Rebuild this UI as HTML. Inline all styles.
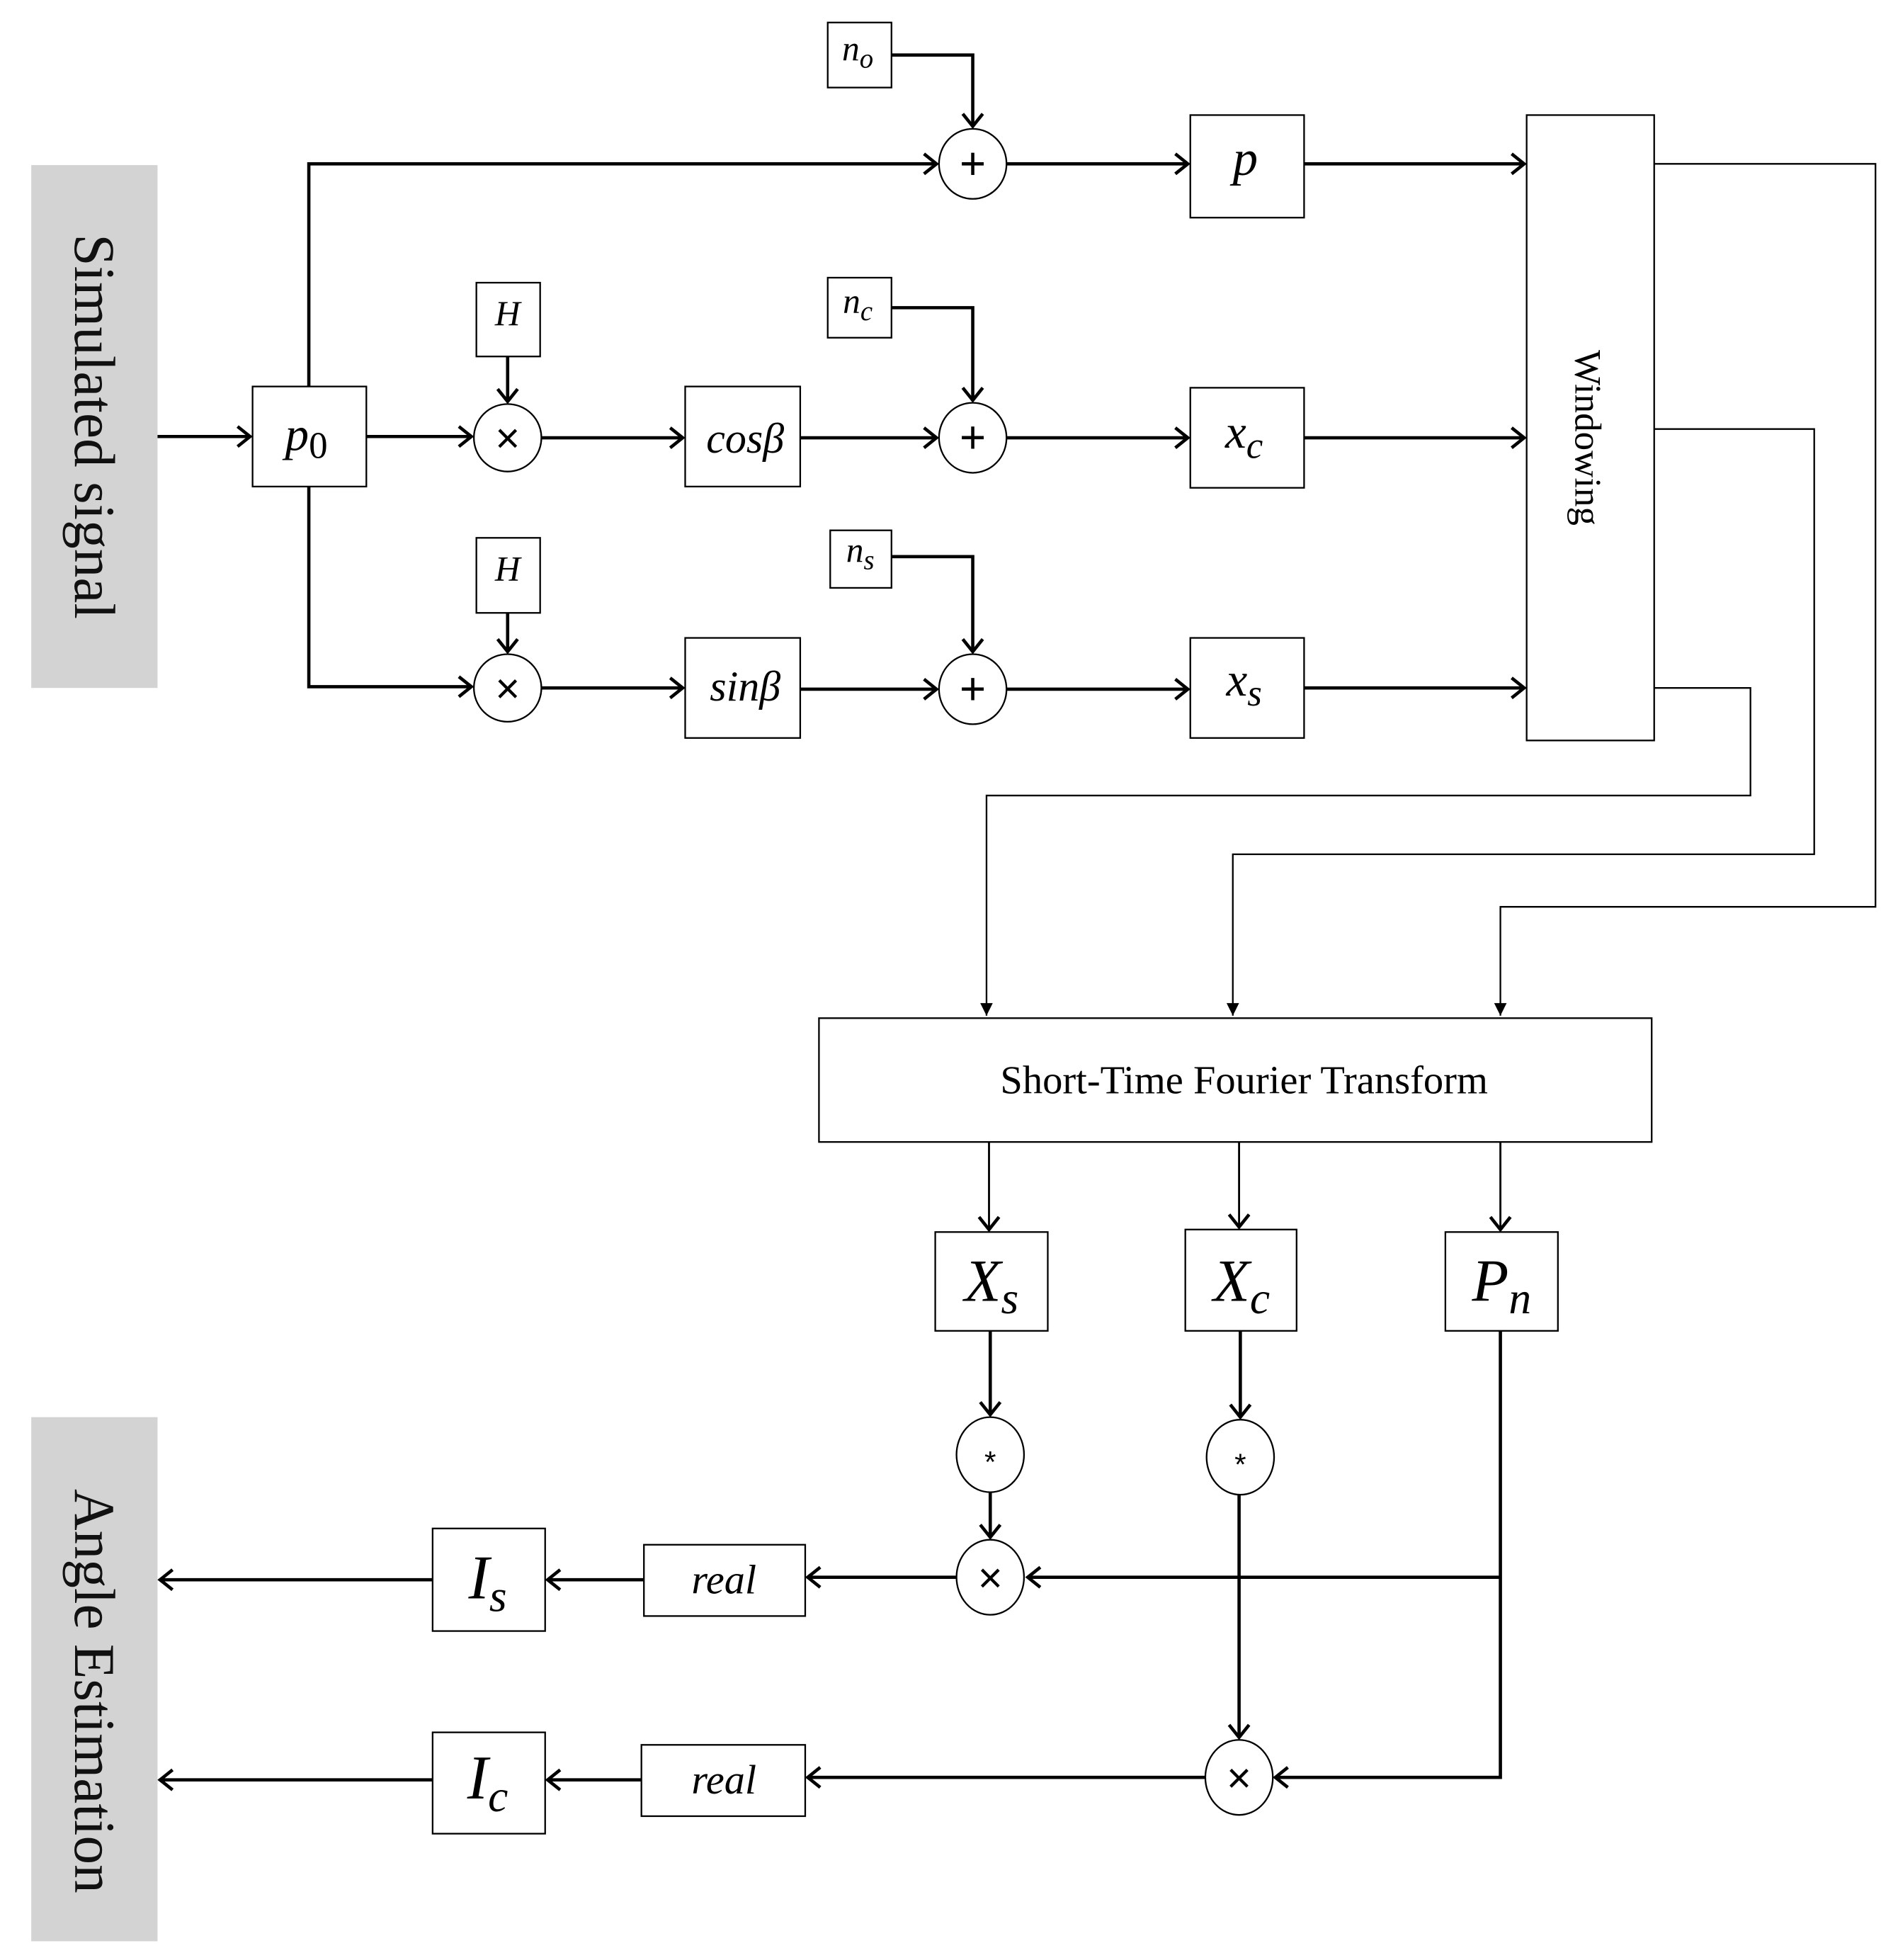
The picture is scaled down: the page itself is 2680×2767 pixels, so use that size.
<!DOCTYPE html>
<html><head><meta charset="utf-8"><style>
html,body{margin:0;padding:0;background:#fff;}
svg{display:block;}
.m{font-family:"Liberation Serif",serif;font-style:italic;}
</style></head><body>
<svg width="2680" height="2767" viewBox="0 0 1518 1567" preserveAspectRatio="none" xmlns="http://www.w3.org/2000/svg">
<defs>
<marker id="a" markerUnits="userSpaceOnUse" markerWidth="24" markerHeight="24" refX="12" refY="12" orient="auto">
<path d="M2,4 L12,12 L2,20" fill="none" stroke="#000" stroke-width="2.6"/>
</marker>
<marker id="b" markerUnits="userSpaceOnUse" markerWidth="16" markerHeight="16" refX="10" refY="8" orient="auto">
<path d="M0,3 L10,8 L0,13 Z" fill="#000"/>
</marker>
</defs>
<rect width="1530" height="1580" fill="#fff"/>
<!-- gray panels -->
<rect x="25" y="132" width="101" height="418" fill="#d3d3d3"/>
<rect x="25" y="1133" width="101" height="419" fill="#d3d3d3"/>
<text transform="translate(60,341) rotate(90)" text-anchor="middle" font-family="Liberation Serif,serif" font-size="46" fill="#111">Simulated  signal</text>
<text transform="translate(60,1352) rotate(90)" text-anchor="middle" font-family="Liberation Serif,serif" font-size="46" fill="#111">Angle  Estimation</text>

<g fill="none" stroke="#000" stroke-width="1.3">
<rect x="202" y="309" width="91" height="80"/>
<rect x="381" y="226" width="51" height="59"/>
<rect x="381" y="430" width="51" height="60"/>
<rect x="548" y="309" width="92" height="80"/>
<rect x="548" y="510" width="92" height="80"/>
<rect x="662" y="18" width="51" height="52"/>
<rect x="662" y="222" width="51" height="48"/>
<rect x="664" y="424" width="49" height="46"/>
<rect x="952" y="92" width="91" height="82"/>
<rect x="952" y="310" width="91" height="80"/>
<rect x="952" y="510" width="91" height="80"/>
<rect x="1221" y="92" width="102" height="500"/>
<rect x="655" y="814" width="666" height="99"/>
<rect x="748" y="985" width="90" height="79"/>
<rect x="948" y="983" width="89" height="81"/>
<rect x="1156" y="985" width="90" height="79"/>
<rect x="515" y="1235" width="129" height="57"/>
<rect x="513" y="1395" width="131" height="57"/>
<rect x="346" y="1222" width="90" height="82"/>
<rect x="346" y="1385" width="90" height="81"/>
<ellipse cx="406" cy="350" rx="27" ry="27"/>
<ellipse cx="406" cy="550" rx="27" ry="27"/>
<ellipse cx="778" cy="131" rx="27" ry="28"/>
<ellipse cx="778" cy="350" rx="27" ry="28"/>
<ellipse cx="778" cy="551" rx="27" ry="28"/>
<ellipse cx="792" cy="1163" rx="27" ry="30"/>
<ellipse cx="992" cy="1165" rx="27" ry="30"/>
<ellipse cx="792" cy="1261" rx="27" ry="30"/>
<ellipse cx="991" cy="1421" rx="27" ry="30"/>
</g>

<g fill="none" stroke="#000" stroke-width="2.6" marker-end="url(#a)">
<path d="M126,349 H200"/>
<path d="M247,309 V131 H749"/>
<path d="M247,389 V549 H377"/>
<path d="M293,349 H377"/>
<path d="M406,285 V321"/>
<path d="M406,490 V521"/>
<path d="M433,350 H546"/>
<path d="M433,550 H546"/>
<path d="M640,350 H749"/>
<path d="M640,551 H749"/>
<path d="M713,44 H778 V101"/>
<path d="M713,246 H778 V320"/>
<path d="M713,445 H778 V521"/>
<path d="M805,131 H950"/>
<path d="M805,350 H950"/>
<path d="M805,551 H950"/>
<path d="M1043,131 H1219"/>
<path d="M1043,350 H1219"/>
<path d="M1043,550 H1219"/>
<path d="M792,1064 V1131"/>
<path d="M992,1064 V1133"/>
<path d="M792,1193 V1229"/>
<path d="M991,1195 V1389"/>
<path d="M1200,1261 H822"/>
<path d="M1200,1064 V1421 H1020"/>
<path d="M765,1261 H646"/>
<path d="M964,1421 H646"/>
<path d="M515,1263 H438"/>
<path d="M513,1423 H438"/>
<path d="M346,1263 H128"/>
<path d="M346,1423 H128"/>
</g>
<g fill="none" stroke="#000" stroke-width="1.6" marker-end="url(#a)">
<path d="M791,913 V983"/>
<path d="M991,913 V981"/>
<path d="M1200,913 V983"/>
</g>
<g fill="none" stroke="#000" stroke-width="1.3" marker-end="url(#b)">
<path d="M1323,131 H1500 V725 H1200 V812"/>
<path d="M1323,343 H1451 V683 H986 V812"/>
<path d="M1323,550 H1400 V636 H789 V812"/>
</g>

<g font-family="Liberation Sans,sans-serif" text-anchor="middle" fill="#000">
<text x="406" y="362" font-size="34">×</text>
<text x="406" y="562" font-size="34">×</text>
<text x="792" y="1273" font-size="34">×</text>
<text x="991" y="1433" font-size="34">×</text>
<text x="778" y="143" font-size="36">+</text>
<text x="778" y="362" font-size="36">+</text>
<text x="778" y="563" font-size="36">+</text>
<text x="792" y="1177" font-size="24">*</text>
<text x="992" y="1179" font-size="24">*</text>
</g>

<g class="m" fill="#000" text-anchor="middle">
<text x="245" y="360" font-size="38">p<tspan font-style="normal" font-size="30" dy="6">0</tspan></text>
<text x="406" y="260" font-size="28">H</text>
<text x="406" y="464" font-size="28">H</text>
<text x="596" y="362" font-size="34">cosβ</text>
<text x="596" y="560" font-size="34">sinβ</text>
<text x="686" y="48" font-size="28">n<tspan font-size="22" dy="6">o</tspan></text>
<text x="686" y="250" font-size="28">n<tspan font-size="22" dy="6">c</tspan></text>
<text x="688" y="449" font-size="28">n<tspan font-size="22" dy="6">s</tspan></text>
<text x="996" y="140" font-size="40">p</text>
<text x="995" y="358" font-size="38">x<tspan font-size="30" dy="8">c</tspan></text>
<text x="995" y="556" font-size="38">x<tspan font-size="30" dy="8">s</tspan></text>
<text x="793" y="1040" font-size="48">X<tspan font-size="36" dy="10">s</tspan></text>
<text x="993" y="1040" font-size="48">X<tspan font-size="36" dy="10">c</tspan></text>
<text x="1201" y="1040" font-size="48">P<tspan font-size="36" dy="10">n</tspan></text>
<text x="390" y="1278" font-size="50">I<tspan font-size="36" dy="10">s</tspan></text>
<text x="390" y="1438" font-size="50">I<tspan font-size="36" dy="10">c</tspan></text>
<text x="579" y="1274" font-size="33">real</text>
<text x="579" y="1434" font-size="33">real</text>
</g>
<text x="995" y="874" text-anchor="middle" font-family="Liberation Serif,serif" font-size="32" fill="#000">Short-Time  Fourier  Transform</text>
<text transform="translate(1260,350) rotate(90)" text-anchor="middle" font-family="Liberation Serif,serif" font-size="30" fill="#000">Windowing</text>
</svg>
</body></html>
